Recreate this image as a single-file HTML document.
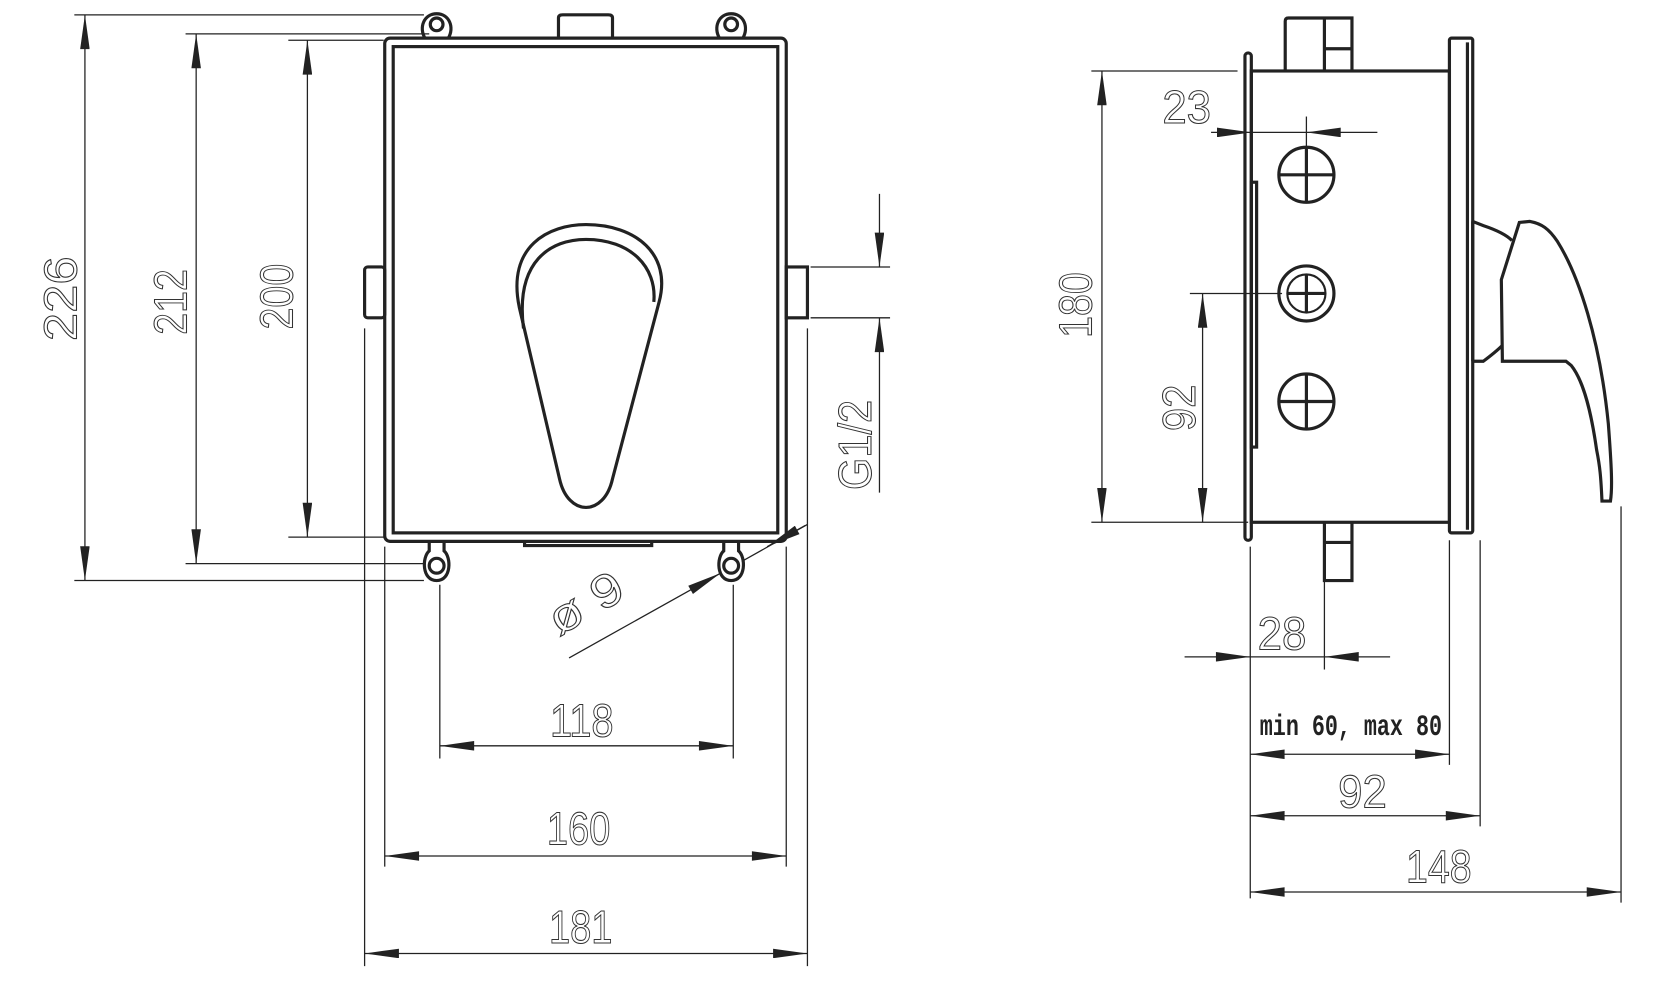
<!DOCTYPE html>
<html><head><meta charset="utf-8"><style>
html,body{margin:0;padding:0;background:#fff;}
svg{display:block;}
.t{font-family:"Liberation Sans",sans-serif;fill:none;stroke:#333;stroke-width:1;font-size:44px;}
</style></head><body>
<svg width="1653" height="981" viewBox="0 0 1560 926" xmlns="http://www.w3.org/2000/svg">
<defs>
<marker id="a" viewBox="0 0 36 10" refX="36" refY="5" markerWidth="34" markerHeight="9" markerUnits="userSpaceOnUse" orient="auto-start-reverse"><path d="M0,0 L36,5 L0,10 z" fill="#222"/></marker>
</defs>
<rect width="1560" height="926" fill="#fff"/>
<g fill="none" stroke="#222" stroke-width="3">
<rect x="363" y="36" width="379" height="475" rx="5"/>
<rect x="371" y="44" width="363" height="459"/>
<path d="M527,36 V17 Q527,14 531,14 H574 Q578,14 578,17 V36"/>
<path d="M495,511 V515 H615 V511"/>
<rect x="344" y="252" width="19" height="48" rx="3"/>
<rect x="742" y="252" width="20" height="48"/>
<path d="M401,36 C395,26 400,13 412,13 C424,13 429,26 423,36"/><circle cx="412" cy="23" r="6"/>
<path d="M679,36 C673,26 678,13 690,13 C702,13 707,26 701,36"/><circle cx="690" cy="23" r="6"/>
<path d="M405,511 L405,520 C398,526 398,548 412,548 C426,548 426,526 419,520 L419,511"/><circle cx="412" cy="534" r="7"/>
<path d="M683,511 L683,520 C676,526 676,548 690,548 C704,548 704,526 697,520 L697,511"/><circle cx="690" cy="534" r="7"/>
<path d="M490,290 C478,232 518,212 553,212 C600,212 634,240 622,285 L578,452 C570,488 536,488 528,452 Z"/>
<path d="M494,310 C486,246 520,226 553,226 C595,226 620,252 617,285"/>
<rect x="1181" y="67" width="187" height="426"/>
<rect x="1175" y="50" width="6" height="460" rx="3"/>
<rect x="1181" y="172" width="5" height="250"/>
<path d="M1213,67 V20 Q1213,17 1216,17 H1276 V67 M1250,17 V67 M1250,46 H1276"/>
<path d="M1250,493 V548 H1276 V493 M1250,512 H1276"/>
<rect x="1368" y="36" width="22" height="467" rx="2"/>
<line x1="1385" y1="40" x2="1385" y2="500"/>
<circle cx="1233" cy="165" r="26"/><path d="M1207,165 H1259 M1233,139 V191"/>
<circle cx="1233" cy="277" r="26"/><circle cx="1233" cy="277" r="18" stroke-width="2"/><path d="M1215,277 H1251 M1233,259 V295"/>
<circle cx="1233" cy="379" r="26"/><path d="M1207,379 H1259 M1233,353 V405"/>
<path d="M1390,209 L1400,213 C1412,217 1422,222 1427,227 M1390,341 L1400,341 C1408,335 1414,330 1418,326"/>
<path d="M1417,264 L1434,210 L1444,209 C1455,211 1462,216 1470,228 C1490,260 1510,320 1518,400 C1521,440 1522,460 1520,473 L1512,473 C1511,450 1510,440 1507,425 C1502,390 1495,360 1483,345 L1478,341 H1418 Z"/>
<line x1="1390" y1="209" x2="1390" y2="341"/>
</g>
<g stroke="#222" stroke-width="1.2" fill="none">
<line x1="70" y1="14" x2="400" y2="14"/><line x1="70" y1="548" x2="400" y2="548"/>
<line x1="80" y1="14" x2="80" y2="548" marker-start="url(#a)" marker-end="url(#a)"/>
<line x1="175" y1="32" x2="405" y2="32"/><line x1="175" y1="532" x2="400" y2="532"/>
<line x1="185" y1="32" x2="185" y2="532" marker-start="url(#a)" marker-end="url(#a)"/>
<line x1="272" y1="38" x2="362" y2="38"/><line x1="272" y1="507" x2="362" y2="507"/>
<line x1="290" y1="38" x2="290" y2="507" marker-start="url(#a)" marker-end="url(#a)"/>
<line x1="765" y1="252" x2="840" y2="252"/><line x1="765" y1="300" x2="840" y2="300"/>
<line x1="830" y1="183" x2="830" y2="252" marker-end="url(#a)"/>
<line x1="830" y1="465" x2="830" y2="300" marker-end="url(#a)"/>
<line x1="344" y1="310" x2="344" y2="912"/><line x1="762" y1="310" x2="762" y2="912"/>
<line x1="363" y1="516" x2="363" y2="818"/><line x1="742" y1="516" x2="742" y2="818"/>
<line x1="415" y1="552" x2="415" y2="716"/><line x1="692" y1="552" x2="692" y2="716"/>
<line x1="415" y1="704" x2="692" y2="704" marker-start="url(#a)" marker-end="url(#a)"/>
<line x1="363" y1="808" x2="742" y2="808" marker-start="url(#a)" marker-end="url(#a)"/>
<line x1="344" y1="900" x2="762" y2="900" marker-start="url(#a)" marker-end="url(#a)"/>
<line x1="537" y1="621" x2="680" y2="541" marker-end="url(#a)"/>
<line x1="700" y1="530" x2="762" y2="495"/>
<line x1="760" y1="496" x2="724" y2="516" marker-end="url(#a)"/>
<line x1="1030" y1="67" x2="1168" y2="67"/><line x1="1030" y1="493" x2="1178" y2="493"/>
<line x1="1040" y1="67" x2="1040" y2="493" marker-start="url(#a)" marker-end="url(#a)"/>
<line x1="1143" y1="125" x2="1181" y2="125" marker-end="url(#a)"/>
<line x1="1300" y1="125" x2="1233" y2="125" marker-end="url(#a)"/>
<line x1="1181" y1="125" x2="1233" y2="125"/><line x1="1233" y1="110" x2="1233" y2="139"/>
<line x1="1123" y1="277" x2="1210" y2="277"/>
<line x1="1135" y1="277" x2="1135" y2="493" marker-start="url(#a)" marker-end="url(#a)"/>
<line x1="1180" y1="516" x2="1180" y2="848"/><line x1="1250" y1="548" x2="1250" y2="632"/>
<line x1="1118" y1="620" x2="1180" y2="620" marker-end="url(#a)"/>
<line x1="1312" y1="620" x2="1250" y2="620" marker-end="url(#a)"/>
<line x1="1180" y1="620" x2="1250" y2="620"/>
<line x1="1368" y1="510" x2="1368" y2="722"/><line x1="1397" y1="510" x2="1397" y2="780"/>
<line x1="1530" y1="478" x2="1530" y2="852"/>
<line x1="1180" y1="712" x2="1368" y2="712" marker-start="url(#a)" marker-end="url(#a)"/>
<line x1="1180" y1="770" x2="1397" y2="770" marker-start="url(#a)" marker-end="url(#a)"/>
<line x1="1180" y1="842" x2="1530" y2="842" marker-start="url(#a)" marker-end="url(#a)"/>
</g>
<g class="t">
<text transform="translate(72,282) rotate(-90)" text-anchor="middle" textLength="80" lengthAdjust="spacingAndGlyphs">226</text>
<text transform="translate(176,285) rotate(-90)" text-anchor="middle" textLength="62" lengthAdjust="spacingAndGlyphs">212</text>
<text transform="translate(276,280) rotate(-90)" text-anchor="middle" textLength="62" lengthAdjust="spacingAndGlyphs">200</text>
<text transform="translate(822,420) rotate(-90)" text-anchor="middle" textLength="85" lengthAdjust="spacingAndGlyphs">G1/2</text>
<text x="549" y="695" text-anchor="middle" textLength="60" lengthAdjust="spacingAndGlyphs">118</text>
<text x="546" y="797" text-anchor="middle" textLength="60" lengthAdjust="spacingAndGlyphs">160</text>
<text x="548" y="890" text-anchor="middle" textLength="60" lengthAdjust="spacingAndGlyphs">181</text>
<text transform="translate(560,582) rotate(-30)" text-anchor="middle" textLength="75" lengthAdjust="spacingAndGlyphs">ø 9</text>
<text transform="translate(1030,288) rotate(-90)" text-anchor="middle" textLength="62" lengthAdjust="spacingAndGlyphs">180</text>
<text x="1120" y="116" text-anchor="middle" textLength="46" lengthAdjust="spacingAndGlyphs">23</text>
<text transform="translate(1128,385) rotate(-90)" text-anchor="middle" textLength="44" lengthAdjust="spacingAndGlyphs">92</text>
<text x="1210" y="613" text-anchor="middle" textLength="46" lengthAdjust="spacingAndGlyphs">28</text>
<text x="1286" y="762" text-anchor="middle" textLength="46" lengthAdjust="spacingAndGlyphs">92</text>
<text x="1358" y="833" text-anchor="middle" textLength="62" lengthAdjust="spacingAndGlyphs">148</text>
</g>
<text x="1275" y="694" text-anchor="middle" font-family="Liberation Mono,monospace" font-weight="bold" font-size="28" fill="#222" textLength="172" lengthAdjust="spacingAndGlyphs">min 60, max 80</text>
</svg>
</body></html>
